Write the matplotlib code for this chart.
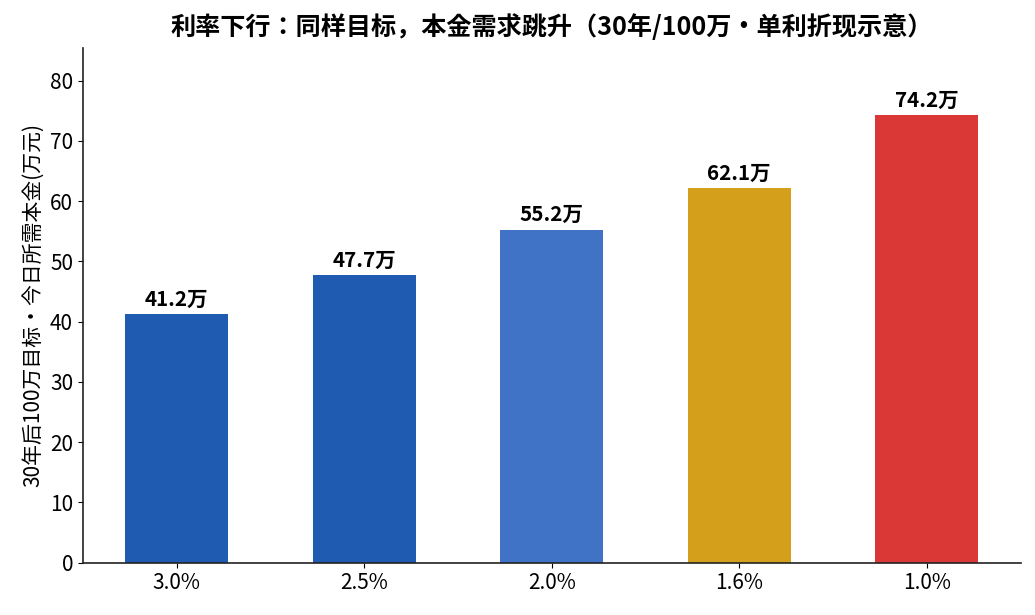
import matplotlib
matplotlib.use("Agg")
import matplotlib.pyplot as plt

plt.rcParams['font.family'] = ['Noto Sans CJK JP', 'DejaVu Sans']

rates = ["3.0%", "2.5%", "2.0%", "1.6%", "1.0%"]
principal = [41.2, 47.7, 55.2, 62.1, 74.2]
colors = ["#1f5bb0", "#1f5bb0", "#4072c5", "#d4a01b", "#d93836"]

fig, ax = plt.subplots(figsize=(10.35, 6.15), dpi=100)
fig.subplots_adjust(left=0.080, right=0.986, top=0.922, bottom=0.085)

x = range(len(rates))
bars = ax.bar(x, principal, width=0.55, color=colors)
for b, v in zip(bars, principal):
    ax.text(b.get_x() + b.get_width() / 2, v + 0.8, f"{v:.1f}万",
            ha="center", va="bottom", fontsize=14.8, fontweight="bold")

ax.set_xticks(list(x))
ax.set_xticklabels(rates, fontsize=15)
ax.tick_params(axis="y", labelsize=15)
ax.set_ylim(0, 85.4)
ax.set_xlim(-0.5, 4.5)
ax.set_ylabel("30年后100万目标・今日所需本金(万元)", fontsize=15, labelpad=4)
ax.set_title("利率下行：同样目标，本金需求跳升（30年/100万・单利折现示意）",
             fontsize=18.1, fontweight="bold", pad=9)
ax.spines["top"].set_visible(False)
ax.spines["right"].set_visible(False)
for s in ("left", "bottom"):
    ax.spines[s].set_linewidth(1.2)
    ax.spines[s].set_color("#222222")

fig.savefig("out.png")
